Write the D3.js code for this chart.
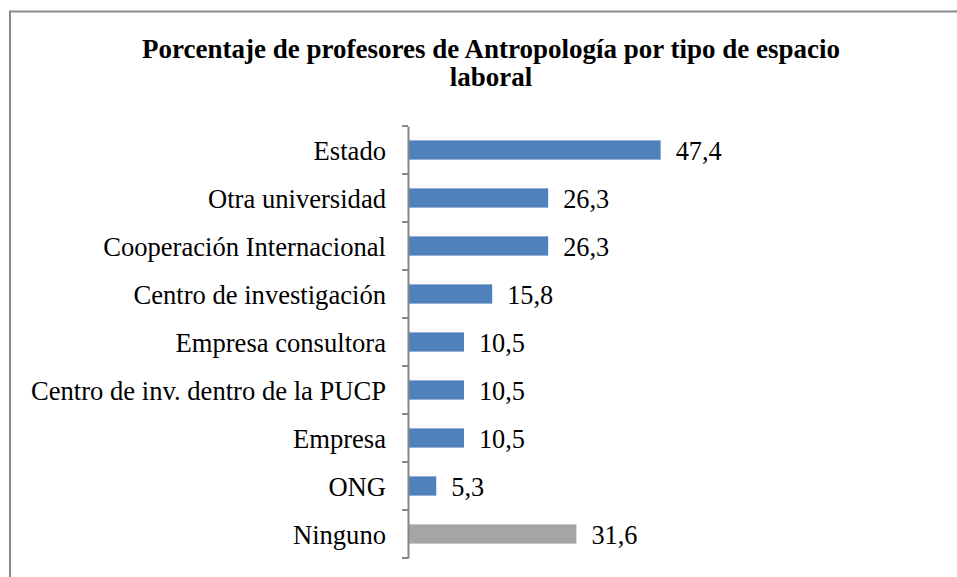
<!DOCTYPE html>
<html><head><meta charset="utf-8">
<script src="https://cdn.jsdelivr.net/npm/d3@7"></script>
<style>body{margin:0;background:#fff}svg{display:block}
svg text{font-family:'Liberation Serif','Times New Roman',serif}</style>
</head><body>
<svg id="c" width="957" height="577"></svg>
<script>
const categories = ["Estado","Otra universidad","Cooperación Internacional","Centro de investigación","Empresa consultora","Centro de inv. dentro de la PUCP","Empresa","ONG","Ninguno"];
const values = [47.4,26.3,26.3,15.8,10.5,10.5,10.5,5.3,31.6];
const labels = ["47,4","26,3","26,3","15,8","10,5","10,5","10,5","5,3","31,6"];
const colors = ["#4F81BD","#4F81BD","#4F81BD","#4F81BD","#4F81BD","#4F81BD","#4F81BD","#4F81BD","#A5A5A5"];
const titleLines = ["Porcentaje de profesores de Antropología por tipo de espacio","laboral"];

const FONT = "'Liberation Serif', 'Times New Roman', serif";
const svg = d3.select("#c");
svg.append("rect").attr("x",10).attr("y",11.5).attr("width",1000).attr("height",1000)
  .attr("fill","none").attr("stroke","#8a8a8a").attr("stroke-width",2);

const x = d3.scaleLinear().domain([0,50]).range([408,674.5]);
const y = d3.scaleBand().domain(categories).range([126,558]).paddingInner(0.6).paddingOuter(0.3);

svg.selectAll("rect.bar").data(categories).join("rect").attr("class","bar")
  .attr("x",x(0)).attr("y",d=>y(d)).attr("height",y.bandwidth())
  .attr("width",(d,i)=>x(values[i])-x(0)).attr("fill",(d,i)=>colors[i]);

const yAxisScale = d3.scaleBand().domain(categories).range([126,558]);
const ax = d3.axisLeft(yAxisScale).tickSize(0).tickPadding(22);
const g = svg.append("g").attr("transform","translate(408,0)").call(ax);
g.attr("font-family",null).attr("font-size",null);
g.select(".domain").attr("stroke","#868686").attr("stroke-width",2);
g.selectAll(".tick text").style("font-family",FONT).style("font-size","26.6px").attr("fill","#000").attr("dy","0.37em");
const bounds = d3.range(categories.length+1).map(i=>126+i*yAxisScale.step());
svg.selectAll("line.tk").data(bounds).join("line").attr("class","tk")
  .attr("x1",402).attr("x2",408).attr("y1",d=>d).attr("y2",d=>d)
  .attr("stroke","#868686").attr("stroke-width",2);

svg.selectAll("text.val").data(categories).join("text").attr("class","val")
  .attr("x",(d,i)=>x(values[i])+15).attr("y",d=>y(d)+y.bandwidth()/2).attr("dy","0.37em")
  .style("font-family",FONT).style("font-size","26.3px").attr("fill","#000")
  .text((d,i)=>labels[i]);

svg.selectAll("text.title").data(titleLines).join("text").attr("class","title")
  .attr("x",491).attr("y",(d,i)=>58+i*28).attr("text-anchor","middle")
  .style("font-family",FONT).style("font-weight","bold").style("font-size","27px")
  .text(d=>d);
</script>
</body></html>
